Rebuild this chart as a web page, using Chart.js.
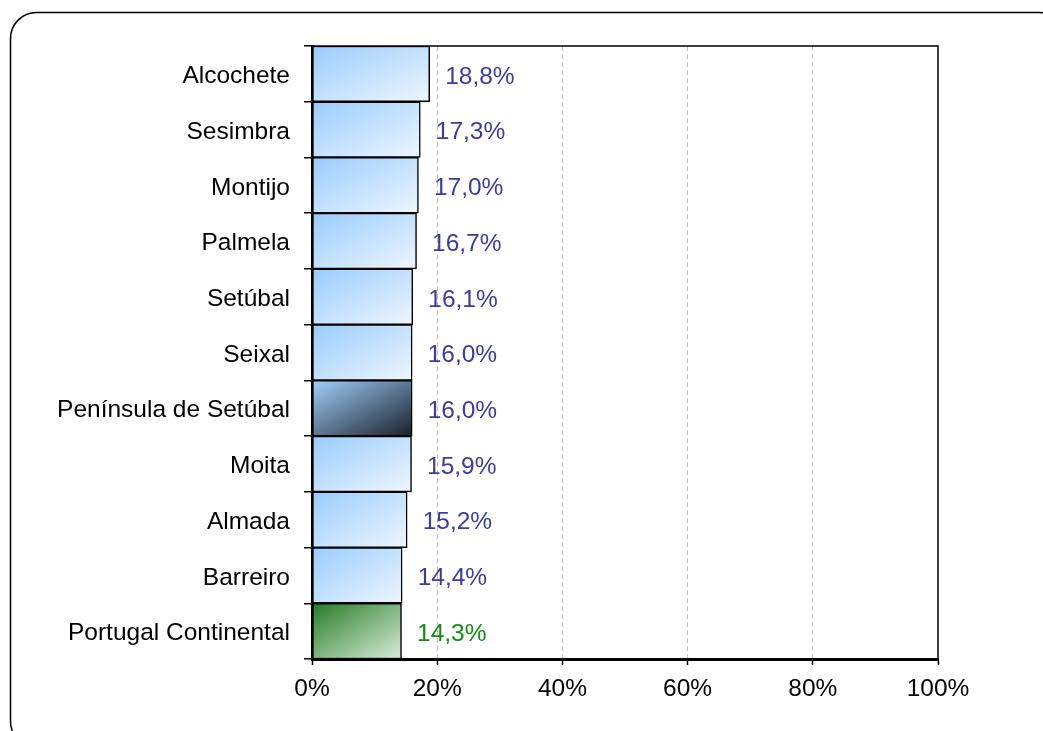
<!DOCTYPE html>
<html>
<head>
<meta charset="utf-8">
<script src="https://cdn.jsdelivr.net/npm/chart.js"></script>
<style>
  html, body { margin: 0; padding: 0; background: #fff; }
</style>
</head>
<body>
<canvas id="chart" width="1043" height="731"></canvas>
<script>
// data
const municipios = [
  "Alcochete", "Sesimbra", "Montijo", "Palmela", "Setúbal", "Seixal",
  "Península de Setúbal", "Moita", "Almada", "Barreiro", "Portugal Continental"
];
const valores = [18.8, 17.3, 17.0, 16.7, 16.1, 16.0, 16.0, 15.9, 15.2, 14.4, 14.3];
const xTicks = [0, 20, 40, 60, 80, 100];
const regiao = "Península de Setúbal";
const pais = "Portugal Continental";

const FONT = "'Liberation Sans', Arial, sans-serif";
const FSIZE = 24.5;

// diagonal gradient per bar (isolines parallel to the box's anti-diagonal, like Office)
function barFill(c) {
  const chart = c.chart;
  const name = municipios[c.dataIndex];
  let stops = ["#99ccff", "#eef6ff"];
  if (name === regiao) stops = ["#a3d0fc", "#18202c"];
  if (name === pais) stops = ["#287a28", "#d8eed8"];
  if (!chart.chartArea) return stops[0];
  const xs = chart.scales.x, ys = chart.scales.y;
  const left = xs.getPixelForValue(0);
  const w = xs.getPixelForValue(valores[c.dataIndex]) - left;
  const h = ys.height / municipios.length;
  const top = ys.getPixelForValue(c.dataIndex) - h / 2;
  const k = 2 * w * h / (w * w + h * h);
  const g = chart.ctx.createLinearGradient(left, top, left + h * k, top + w * k);
  g.addColorStop(0, stops[0]);
  g.addColorStop(1, stops[1]);
  return g;
}

const framePlugin = {
  id: "frame",
  beforeDraw(chart) {
    const ctx = chart.ctx;
    ctx.save();
    ctx.fillStyle = "#fff";
    ctx.fillRect(0, 0, chart.width, chart.height);
    // rounded outer border
    const x = 10.5, y = 12.5, w = 1055, h = 735, r = 26;
    ctx.beginPath();
    ctx.moveTo(x + r, y);
    ctx.arcTo(x + w, y, x + w, y + h, r);
    ctx.arcTo(x + w, y + h, x, y + h, r);
    ctx.arcTo(x, y + h, x, y, r);
    ctx.arcTo(x, y, x + w, y, r);
    ctx.closePath();
    ctx.lineWidth = 1.5;
    ctx.strokeStyle = "#000";
    ctx.stroke();
    ctx.restore();
  },
  afterDatasetsDraw(chart) {
    const ctx = chart.ctx;
    const a = chart.chartArea;
    ctx.save();
    // top and right edge of the plot
    ctx.strokeStyle = "#000";
    ctx.lineWidth = 1.5;
    ctx.beginPath();
    ctx.moveTo(a.left, a.top);
    ctx.lineTo(a.right, a.top);
    ctx.lineTo(a.right, a.bottom);
    ctx.stroke();
    // value labels
    ctx.font = FSIZE + "px " + FONT;
    ctx.textBaseline = "middle";
    ctx.textAlign = "left";
    chart.getDatasetMeta(0).data.forEach((bar, i) => {
      ctx.fillStyle = municipios[i] === pais ? "#148c14" : "#3c3c9c";
      ctx.fillText(valores[i].toFixed(1).replace(".", ",") + "%", bar.x + 15.5, bar.y + 3);
    });
    ctx.restore();
  }
};

new Chart("chart", {
  type: "bar",
  data: {
    labels: municipios,
    datasets: [{
      data: valores,
      backgroundColor: barFill,
      borderColor: "#000",
      borderWidth: 1.5,
      borderSkipped: false,
      barPercentage: 1,
      categoryPercentage: 1
    }]
  },
  options: {
    indexAxis: "y",
    responsive: false,
    animation: false,
    layout: { padding: { left: 0, right: 105, top: 46, bottom: 0 } },
    plugins: {
      legend: { display: false },
      tooltip: { enabled: false }
    },
    scales: {
      x: {
        min: 0,
        max: 100,
        afterBuildTicks: (s) => { s.ticks = xTicks.map(v => ({ value: v })); },
        afterFit: (s) => { s.height = 72; },
        ticks: {
          callback: (v) => v + "%",
          color: "#000",
          font: { family: FONT, size: FSIZE },
          padding: 10,
          maxRotation: 0
        },
        grid: {
          color: (c) => (c.tick && (c.tick.value === 0 || c.tick.value === 100)) ? "rgba(0,0,0,0)" : "#c0c0c0",
          lineWidth: 1,
          tickColor: "#000",
          tickLength: 6,
          tickWidth: 1.5,
          tickBorderDash: []
        },
        border: { color: "#000", width: 3, dash: [5, 3] }
      },
      y: {
        afterFit: (s) => { s.width = 312; },
        ticks: {
          color: "#000",
          font: { family: FONT, size: FSIZE },
          padding: 14,
          labelOffset: 2.5
        },
        grid: {
          drawOnChartArea: false,
          offset: true,
          color: "#000",
          lineWidth: 1.5,
          tickLength: 8
        },
        border: { color: "#000", width: 3 }
      }
    }
  },
  plugins: [framePlugin]
});
</script>
</body>
</html>
